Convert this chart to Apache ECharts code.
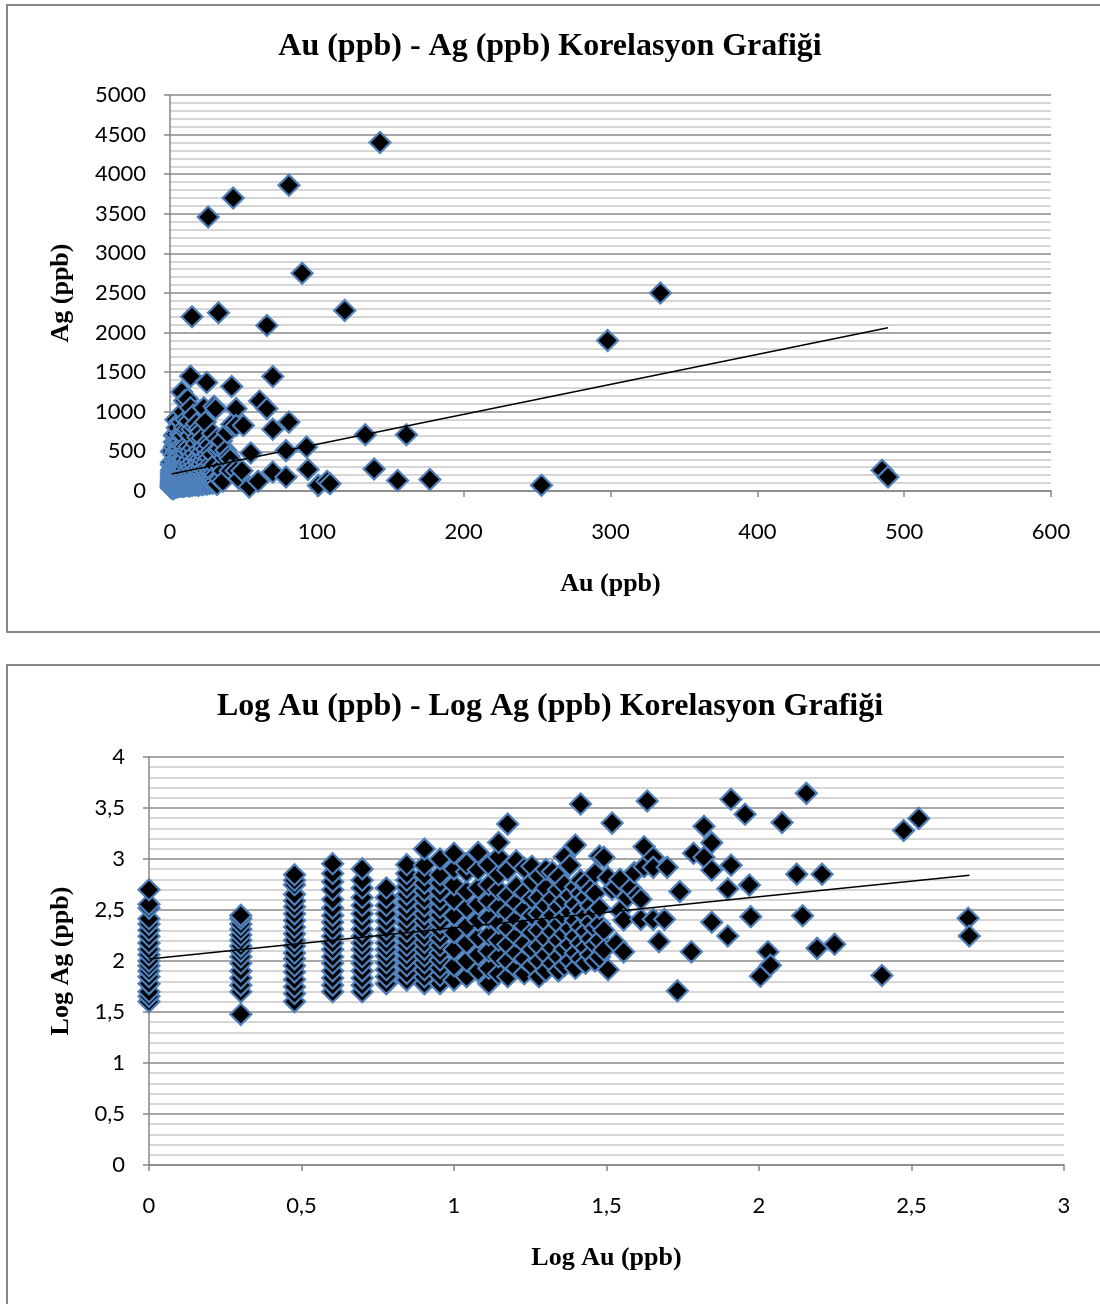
<!DOCTYPE html>
<html>
<head>
<meta charset="utf-8">
<script src="https://cdn.jsdelivr.net/npm/echarts@6/dist/echarts.min.js"></script>
<style>
  html, body { margin: 0; padding: 0; background: #fff; }
  #chart { width: 1100px; height: 1304px; }
</style>
</head>
<body>
<div id="chart"></div>
<script>
// Au values (ppb) that repeat across many samples, one column each
const AU_COLUMNS = [1, 2, 3, 4, 5, 6, 7, 8, 9, 10, 11, 12, 13, 14, 15,
  16, 17, 18, 19, 20, 21, 22, 23, 24, 25, 26, 27, 28, 29, 30];

// Ag values (ppb) read for each Au column above
const AG_BY_COLUMN = [
  [40, 45, 50, 60, 70, 80, 90, 100, 115, 130, 150, 175, 200, 230, 260, 330, 360, 500],
  [30, 50, 58, 68, 80, 95, 110, 125, 140, 160, 180, 205, 230, 260, 280],
  [40, 48, 56, 66, 78, 90, 105, 120, 140, 160, 185, 215, 250, 290, 340, 390, 450, 560, 620, 700],
  [50, 58, 68, 80, 95, 110, 130, 150, 175, 205, 240, 280, 330, 400, 500, 600, 720, 900],
  [50, 58, 68, 80, 95, 110, 130, 150, 175, 205, 245, 290, 350, 420, 520, 620, 800],
  [60, 70, 82, 96, 112, 130, 150, 175, 205, 245, 290, 350, 420, 520],
  [65, 76, 90, 105, 122, 142, 165, 195, 230, 270, 320, 380, 450, 530, 620, 720, 880],
  [60, 70, 82, 96, 112, 130, 152, 178, 210, 248, 290, 345, 410, 490, 580, 700, 870, 1250],
  [60, 72, 86, 102, 120, 142, 168, 200, 238, 282, 335, 400, 480, 580, 700, 1000],
  [65, 90, 130, 190, 280, 400, 560, 800, 1140],
  [70, 100, 150, 220, 330, 480, 750, 900],
  [80, 115, 170, 250, 360, 520, 780, 1160],
  [60, 85, 125, 180, 265, 390, 560, 880],
  [75, 110, 160, 235, 340, 500, 700, 1050, 1450],
  [70, 100, 145, 210, 300, 440, 780, 2200],
  [85, 120, 175, 255, 370, 540, 960],
  [75, 105, 150, 220, 320, 470, 810],
  [90, 130, 190, 280, 410, 600, 850],
  [70, 100, 140, 200, 290, 420, 680],
  [80, 115, 165, 240, 350, 520, 790],
  [95, 135, 195, 280, 410, 750],
  [80, 110, 160, 230, 340, 500, 670],
  [90, 130, 185, 270, 390, 560, 1050],
  [100, 145, 210, 300, 440, 870],
  [85, 120, 175, 250, 360, 530, 1370],
  [105, 150, 215, 310, 460, 620, 3460],
  [95, 135, 195, 280, 420, 580],
  [115, 165, 240, 350, 500],
  [100, 145, 210, 300, 460, 725],
  [110, 160, 230, 330, 1070]
];

// remaining samples with higher Au (ppb)
const SCATTER_AU = [31, 31, 31, 32, 32, 33, 33, 34, 34, 35, 35, 36, 36, 37, 38, 39, 40, 41, 41, 42,
  42, 43, 45, 45, 45, 47, 49, 50, 54, 55, 61, 60, 66, 66, 70, 70, 70, 79, 79, 81,
  81, 90, 93, 94, 101, 107, 109, 119, 133, 139, 143, 155, 161, 177, 253, 298, 334, 485, 489];
const SCATTER_AG = [1040, 200, 128, 660, 82, 505, 2250, 535, 149, 632, 310, 252, 123, 420, 516, 735, 440, 403, 256, 841,
  1320, 3700, 1040, 828, 256, 155, 256, 828, 51, 479, 1137, 123, 2090, 1040, 1445, 780, 240, 510, 176, 3860,
  870, 2750, 555, 272, 71, 123, 91, 2280, 710, 278, 4400, 133, 710, 146, 72, 1900, 2500, 262, 176];

// linear trendlines as drawn in the source
const TREND_AU = [1, 489];
const TREND_AG = [215, 2060];
const TREND_LOG_AU = [0, 2.69];
const TREND_LOG_AG = [2.02, 2.84];

const TITLE_RAW = "Au (ppb) - Ag (ppb) Korelasyon Grafiği";
const TITLE_LOG = "Log Au (ppb) - Log Ag (ppb) Korelasyon Grafiği";

const SERIF = "'Liberation Serif', 'Times New Roman', serif";
const SANS = "Lato, 'Open Sans', sans-serif";
const MAJOR_GRID = "#8a8a8a";
const MINOR_GRID = "#c8c8c8";
const AXIS_GRAY = "#868686";

const rawPoints = [];
AU_COLUMNS.forEach((au, i) => {
  AG_BY_COLUMN[i].forEach((ag) => rawPoints.push([au, ag]));
});
SCATTER_AU.forEach((au, i) => rawPoints.push([au, SCATTER_AG[i]]));

const logPoints = rawPoints.map(([au, ag]) => [Math.log10(au), Math.log10(ag)]);

const plainFmt = (v) => String(v);
const commaFmt = (v) => String(v).replace(".", ",");

const nameStyle = { fontFamily: SERIF, fontWeight: "bold", fontSize: 26, color: "#000" };

const buildXAxis = (gridIndex, max, interval, fmt, name, gap) => ({
  type: "value", gridIndex, min: 0, max, interval,
  name, nameLocation: "middle", nameGap: gap, nameTextStyle: nameStyle,
  axisLine: { show: true, onZero: false, lineStyle: { color: AXIS_GRAY, width: 1.5 } },
  axisTick: { show: true, inside: false, length: 6, lineStyle: { color: AXIS_GRAY, width: 1.5 } },
  axisLabel: { fontFamily: SANS, fontSize: 22, color: "#000", margin: 30, formatter: fmt },
  splitLine: { show: false },
});

const buildYAxis = (gridIndex, max, interval, fmt, name, gap) => ({
  type: "value", gridIndex, min: 0, max, interval,
  name, nameLocation: "middle", nameGap: gap, nameRotate: 90, nameTextStyle: nameStyle,
  axisLine: { show: true, onZero: false, lineStyle: { color: AXIS_GRAY, width: 1.5 } },
  axisTick: { show: true, inside: false, length: 6, lineStyle: { color: AXIS_GRAY, width: 1.5 } },
  axisLabel: { fontFamily: SANS, fontSize: 22, color: "#000", margin: 24, formatter: fmt },
  splitLine: { show: true, lineStyle: { color: MAJOR_GRID, width: 1.6 } },
  minorTick: { show: false, splitNumber: 5 },
  minorSplitLine: { show: true, lineStyle: { color: MINOR_GRID, width: 1.6 } },
});

// scatter defaults to 0.8 opacity, the source markers are solid
const markerStyle = { color: "#000", borderColor: "#4F81BD", borderWidth: 2.2, opacity: 1 };

const option = {
  animation: false,
  backgroundColor: "#fff",
  title: [
    { text: TITLE_RAW, left: "center", top: 26,
      textStyle: { fontFamily: SERIF, fontWeight: "bold", fontSize: 32, color: "#000" } },
    { text: TITLE_LOG, left: "center", top: 686,
      textStyle: { fontFamily: SERIF, fontWeight: "bold", fontSize: 32, color: "#000" } },
  ],
  grid: [
    { left: 170, top: 95, width: 881, height: 396 },
    { left: 149, top: 757, width: 915, height: 408 },
  ],
  xAxis: [
    buildXAxis(0, 600, 100, plainFmt, "Au (ppb)", 80),
    buildXAxis(1, 3, 0.5, commaFmt, "Log Au (ppb)", 80),
  ],
  yAxis: [
    buildYAxis(0, 5000, 500, plainFmt, "Ag (ppb)", 96),
    buildYAxis(1, 4, 0.5, commaFmt, "Log Ag (ppb)", 75),
  ],
  graphic: [
    { type: "rect", silent: true, z: -1,
      shape: { x: 7, y: 5, width: 1200, height: 627 },
      style: { fill: "none", stroke: "#888", lineWidth: 2 } },
    { type: "rect", silent: true, z: -1,
      shape: { x: 7, y: 665, width: 1200, height: 800 },
      style: { fill: "none", stroke: "#888", lineWidth: 2 } },
  ],
  series: [
    { type: "scatter", xAxisIndex: 0, yAxisIndex: 0, symbol: "diamond", symbolSize: 21,
      itemStyle: markerStyle, data: rawPoints, silent: true, z: 3 },
    { type: "line", xAxisIndex: 0, yAxisIndex: 0, symbol: "none", silent: true, z: 4,
      lineStyle: { color: "#000", width: 1.5 },
      data: TREND_AU.map((x, i) => [x, TREND_AG[i]]) },
    { type: "scatter", xAxisIndex: 1, yAxisIndex: 1, symbol: "diamond", symbolSize: 21,
      itemStyle: markerStyle, data: logPoints, silent: true, z: 3 },
    { type: "line", xAxisIndex: 1, yAxisIndex: 1, symbol: "none", silent: true, z: 4,
      lineStyle: { color: "#000", width: 1.5 },
      data: TREND_LOG_AU.map((x, i) => [x, TREND_LOG_AG[i]]) },
  ],
};

const chart = echarts.init(document.getElementById("chart"), null, { renderer: "canvas" });
chart.setOption(option);
</script>
</body>
</html>
